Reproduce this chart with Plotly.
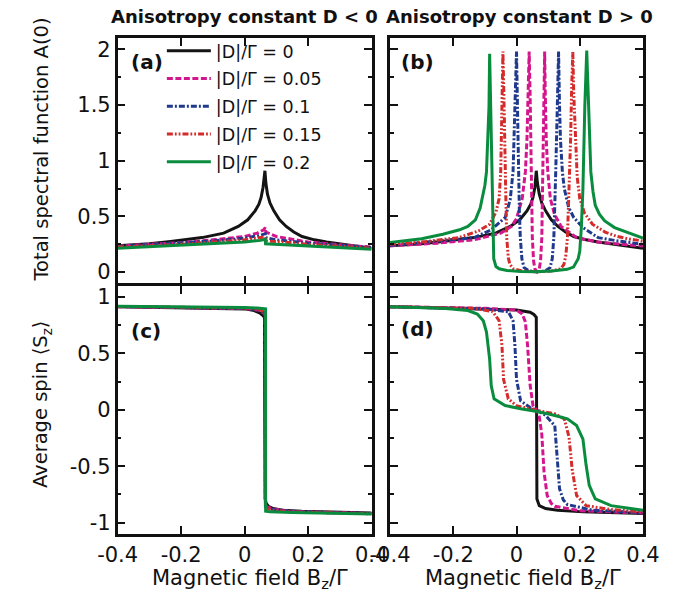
import plotly.graph_objects as go

FONT = "DejaVu Sans, Verdana, sans-serif"
W, H = 682, 601

labels = ["|D|/Γ = 0", "|D|/Γ = 0.05", "|D|/Γ = 0.1", "|D|/Γ = 0.15", "|D|/Γ = 0.2"]
colors = ["#141414", "#d3168c", "#1f3a8c", "#d42b2b", "#0a8c3e"]
dashes = ["solid", "6px,2.5px", "6px,2px,2px,2px", "6px,2px,1.8px,2px,1.8px,2px", "solid"]

# ---------------- panel (a): spectral function, D < 0 ----------------
a_x = [
    [-0.4, -0.3, -0.233, -0.134, -0.066, -0.02, 0.01, 0.033, 0.045, 0.052, 0.058, 0.064, 0.067, 0.072, 0.08, 0.092, 0.11, 0.131, 0.155, 0.181, 0.22, 0.258, 0.32, 0.4],
    [-0.4, -0.2, -0.1, 0.0, 0.04, 0.06, 0.065, 0.067, 0.1, 0.2, 0.3, 0.4],
    [-0.4, -0.2, -0.1, 0.0, 0.05, 0.065, 0.067, 0.1, 0.2, 0.3, 0.4],
    [-0.4, -0.2, -0.1, 0.0, 0.05, 0.065, 0.067, 0.1, 0.2, 0.3, 0.4],
    [-0.4, -0.2, -0.1, 0.0, 0.05, 0.065, 0.066, 0.1, 0.2, 0.3, 0.4],
]
a_y = [
    [0.236, 0.255, 0.275, 0.31, 0.35, 0.41, 0.47, 0.55, 0.61, 0.67, 0.76, 0.91, 0.80, 0.70, 0.62, 0.55, 0.47, 0.41, 0.36, 0.32, 0.29, 0.27, 0.245, 0.215],
    [0.235, 0.265, 0.29, 0.32, 0.35, 0.38, 0.40, 0.36, 0.32, 0.27, 0.245, 0.225],
    [0.23, 0.26, 0.28, 0.305, 0.33, 0.345, 0.31, 0.29, 0.26, 0.24, 0.22],
    [0.225, 0.25, 0.27, 0.29, 0.31, 0.315, 0.28, 0.275, 0.25, 0.23, 0.215],
    [0.215, 0.24, 0.255, 0.27, 0.285, 0.295, 0.255, 0.25, 0.235, 0.22, 0.205],
]

# ---------------- panel (b): spectral function, D > 0 ----------------
b_x = [
    [-0.4, -0.3, -0.233, -0.134, -0.066, -0.02, 0.01, 0.033, 0.045, 0.052, 0.058, 0.0625, 0.066, 0.072, 0.08, 0.092, 0.11, 0.131, 0.155, 0.181, 0.22, 0.258, 0.32, 0.4],
    [-0.4, -0.25, -0.134, -0.05, -0.016, 0.0, 0.018, 0.028, 0.033, 0.037, 0.040, 0.043, 0.045, 0.048, 0.050, 0.054, 0.058, 0.065, 0.072, 0.076, 0.080, 0.082, 0.085, 0.087, 0.089, 0.091, 0.094, 0.099, 0.107, 0.12, 0.141, 0.19, 0.258, 0.33, 0.4],
    [-0.4, -0.25, -0.134, -0.08, -0.036, -0.02, -0.011, -0.005, 0.0, 0.003, 0.006, 0.009, 0.012, 0.017, 0.024, 0.04, 0.065, 0.09, 0.106, 0.113, 0.118, 0.121, 0.124, 0.129, 0.133, 0.136, 0.139, 0.145, 0.151, 0.165, 0.181, 0.21, 0.258, 0.32, 0.4],
    [-0.4, -0.3, -0.183, -0.12, -0.085, -0.065, -0.055, -0.050, -0.048, -0.045, -0.043, -0.040, -0.038, -0.034, -0.031, -0.026, -0.021, -0.01, 0.02, 0.065, 0.11, 0.14, 0.150, 0.156, 0.161, 0.166, 0.171, 0.174, 0.178, 0.181, 0.186, 0.192, 0.20, 0.215, 0.24, 0.28, 0.318, 0.36, 0.4],
    [-0.4, -0.3, -0.233, -0.18, -0.154, -0.13, -0.115, -0.10, -0.095, -0.090, -0.087, -0.085, -0.082, -0.080, -0.077, -0.075, -0.072, -0.065, -0.055, -0.03, 0.013, 0.06, 0.112, 0.16, 0.18, 0.195, 0.20, 0.205, 0.21, 0.216, 0.222, 0.228, 0.232, 0.235, 0.242, 0.249, 0.262, 0.279, 0.31, 0.338, 0.392, 0.4],
]
b_y = [
    [0.236, 0.255, 0.275, 0.31, 0.35, 0.41, 0.47, 0.55, 0.61, 0.67, 0.76, 0.91, 0.80, 0.70, 0.62, 0.55, 0.47, 0.41, 0.36, 0.32, 0.29, 0.27, 0.245, 0.215],
    [0.236, 0.26, 0.29, 0.35, 0.41, 0.48, 0.66, 0.90, 1.19, 1.60, 1.98, 1.60, 1.19, 0.70, 0.31, 0.10, 0.03, 0.003, 0.03, 0.10, 0.31, 0.70, 1.19, 1.60, 1.98, 1.60, 1.19, 0.90, 0.66, 0.52, 0.41, 0.31, 0.27, 0.25, 0.235],
    [0.24, 0.28, 0.31, 0.38, 0.49, 0.65, 0.90, 1.49, 1.98, 1.49, 0.90, 0.55, 0.31, 0.12, 0.04, 0.01, 0.003, 0.01, 0.04, 0.12, 0.31, 0.55, 0.90, 1.49, 1.98, 1.49, 1.19, 0.90, 0.75, 0.58, 0.49, 0.40, 0.31, 0.28, 0.25],
    [0.25, 0.27, 0.31, 0.37, 0.43, 0.54, 0.66, 0.90, 1.19, 1.60, 1.98, 1.60, 1.19, 0.70, 0.31, 0.13, 0.07, 0.03, 0.01, 0.003, 0.01, 0.03, 0.07, 0.15, 0.31, 0.70, 1.19, 1.60, 1.98, 1.60, 1.19, 0.85, 0.66, 0.53, 0.43, 0.36, 0.32, 0.295, 0.28],
    [0.265, 0.30, 0.34, 0.38, 0.41, 0.47, 0.575, 0.78, 0.90, 1.20, 1.49, 1.96, 1.55, 1.19, 0.60, 0.31, 0.12, 0.05, 0.03, 0.015, 0.005, 0.003, 0.01, 0.025, 0.045, 0.12, 0.19, 0.40, 0.75, 1.49, 1.99, 1.49, 1.10, 0.90, 0.72, 0.60, 0.52, 0.46, 0.40, 0.37, 0.31, 0.305],
]

# ---------------- panel (c): average spin, D < 0 ----------------
c_x = [
    [-0.4, -0.2, 0.0, 0.03, 0.047, 0.056, 0.0625, 0.0635, 0.0645, 0.068, 0.075, 0.09, 0.12, 0.18, 0.26, 0.4],
    [-0.4, -0.2, 0.0, 0.04, 0.055, 0.063, 0.0645, 0.0655, 0.07, 0.09, 0.15, 0.26, 0.4],
    [-0.4, -0.2, 0.0, 0.04, 0.057, 0.064, 0.065, 0.0655, 0.07, 0.09, 0.15, 0.26, 0.4],
    [-0.4, -0.2, 0.0, 0.04, 0.058, 0.064, 0.0652, 0.0658, 0.07, 0.09, 0.15, 0.26, 0.4],
    [-0.4, -0.2, 0.0, 0.04, 0.06, 0.066, 0.0662, 0.08, 0.15, 0.26, 0.4],
]
c_y = [
    [0.915, 0.905, 0.895, 0.88, 0.86, 0.84, 0.82, 0.0, -0.79, -0.83, -0.855, -0.875, -0.89, -0.9, -0.905, -0.915],
    [0.915, 0.908, 0.898, 0.885, 0.87, 0.855, 0.84, -0.84, -0.86, -0.88, -0.9, -0.91, -0.92],
    [0.916, 0.909, 0.9, 0.888, 0.875, 0.865, 0.855, -0.855, -0.87, -0.885, -0.9, -0.912, -0.92],
    [0.917, 0.91, 0.902, 0.892, 0.882, 0.872, 0.865, -0.865, -0.875, -0.89, -0.905, -0.913, -0.922],
    [0.918, 0.914, 0.908, 0.902, 0.897, 0.895, -0.9, -0.905, -0.91, -0.915, -0.925],
]

# ---------------- panel (d): average spin, D > 0 ----------------
d_x = [
    [-0.4, -0.134, 0.0, 0.043, 0.055, 0.0625, 0.0635, 0.0645, 0.072, 0.092, 0.13, 0.21, 0.4],
    [-0.4, -0.1, 0.0, 0.018, 0.028, 0.035, 0.043, 0.052, 0.065, 0.072, 0.080, 0.087, 0.097, 0.11, 0.121, 0.2, 0.4],
    [-0.4, -0.1, -0.026, -0.011, -0.005, 0.0, 0.013, 0.043, 0.065, 0.092, 0.121, 0.129, 0.136, 0.148, 0.161, 0.24, 0.4],
    [-0.4, -0.134, -0.075, -0.055, -0.046, -0.041, -0.026, 0.0, 0.065, 0.121, 0.151, 0.166, 0.176, 0.19, 0.22, 0.3, 0.4],
    [-0.4, -0.233, -0.154, -0.124, -0.105, -0.095, -0.085, -0.080, -0.071, -0.036, 0.013, 0.065, 0.112, 0.161, 0.19, 0.21, 0.22, 0.23, 0.249, 0.299, 0.4],
]
d_y = [
    [0.915, 0.895, 0.885, 0.865, 0.845, 0.82, 0.0, -0.79, -0.85, -0.876, -0.89, -0.905, -0.92],
    [0.915, 0.9, 0.885, 0.85, 0.78, 0.57, 0.22, 0.04, -0.005, -0.06, -0.22, -0.55, -0.76, -0.83, -0.855, -0.895, -0.915],
    [0.915, 0.895, 0.87, 0.79, 0.57, 0.27, 0.08, 0.02, -0.005, -0.05, -0.14, -0.43, -0.70, -0.80, -0.84, -0.89, -0.912],
    [0.915, 0.9, 0.87, 0.79, 0.57, 0.27, 0.097, 0.036, -0.005, -0.035, -0.08, -0.24, -0.53, -0.76, -0.85, -0.885, -0.905],
    [0.915, 0.9, 0.88, 0.85, 0.79, 0.69, 0.45, 0.215, 0.097, 0.038, 0.009, -0.015, -0.044, -0.08, -0.14, -0.26, -0.49, -0.67, -0.79, -0.85, -0.89],
]

panels = [(a_x, a_y, "x", "y"), (b_x, b_y, "x2", "y2"), (c_x, c_y, "x3", "y3"), (d_x, d_y, "x4", "y4")]

fig = go.Figure()
for p, (xs, ys, xa, ya) in enumerate(panels):
    for i in range(5):
        fig.add_trace(go.Scatter(
            x=xs[i], y=ys[i], mode="lines", xaxis=xa, yaxis=ya,
            name=labels[i], showlegend=(p == 0), legendgroup="g%d" % i,
            line=dict(color=colors[i], width=3, dash=dashes[i]),
        ))

# geometry (pixels -> paper)
def px(v):
    return v / W

def py(v):
    return 1 - v / H

LW = 2.5
XA = [px(102 + LW / 2), px(373 - LW / 2)]
XB = [px(390 + LW / 2), px(660 - LW / 2)]
YT = [py(285 - LW / 2), py(37 + LW / 2)]
YB = [py(536 - LW / 2), py(285 + LW / 2)]

xticks = [-0.4, -0.2, 0, 0.2, 0.4]
xtext = ["-0.4", "-0.2", "0", "0.2", "0.4"]
TICKFONT = dict(family=FONT, size=21, color="#111")

def xaxis(domain, anchor, labels_on):
    return dict(domain=domain, anchor=anchor, range=[-0.4, 0.4], tickvals=xticks, ticktext=xtext,
                showticklabels=labels_on, ticks="inside", ticklen=8, tickwidth=2, tickcolor="#111",
                showline=True, linewidth=LW, linecolor="#111", mirror="ticks", showgrid=False,
                zeroline=False, tickfont=TICKFONT)

def yaxis(domain, anchor, rng, vals, text, labels_on):
    return dict(domain=domain, anchor=anchor, range=rng, tickvals=vals, ticktext=text,
                showticklabels=labels_on, ticks="inside", ticklen=8, tickwidth=2, tickcolor="#111",
                minor=dict(tickvals=[v + 0.25 for v in vals[:-1]], ticks="inside", ticklen=4, tickwidth=2, tickcolor="#111"),
                showline=True, linewidth=LW, linecolor="#111", mirror="ticks", showgrid=False,
                zeroline=False, tickfont=TICKFONT)

ytop_vals = [0, 0.5, 1, 1.5, 2]
ytop_text = ["0", "0.5", "1", "1.5", "2"]
ybot_vals = [-1, -0.5, 0, 0.5, 1]
ybot_text = ["-1", "-0.5", "0", "0.5", "1"]

fig.update_layout(
    width=W, height=H, margin=dict(l=0, r=0, t=0, b=0),
    paper_bgcolor="white", plot_bgcolor="white",
    font=dict(family=FONT, color="#111"),
    xaxis=xaxis(XA, "y", False),
    xaxis2=xaxis(XB, "y2", False),
    xaxis3=xaxis(XA, "y3", True),
    xaxis4=xaxis(XB, "y4", True),
    yaxis=yaxis(YT, "x", [-0.1, 2.1], ytop_vals, ytop_text, True),
    yaxis2=yaxis(YT, "x2", [-0.1, 2.1], ytop_vals, ytop_text, False),
    yaxis3=yaxis(YB, "x3", [-1.1, 1.1], ybot_vals, ybot_text, True),
    yaxis4=yaxis(YB, "x4", [-1.1, 1.1], ybot_vals, ybot_text, False),
    legend=dict(x=px(150), y=py(33), xanchor="left", yanchor="top", bgcolor="rgba(0,0,0,0)",
                font=dict(family=FONT, size=17.5, color="#111"), tracegroupgap=2, itemwidth=44),
    showlegend=True,
)

ann = []
def note(text, x, y, size, xanchor="center", angle=0):
    ann.append(dict(text=text, x=px(x), y=py(y), xref="paper", yref="paper", xanchor=xanchor,
                    yanchor="middle", textangle=angle, showarrow=False,
                    font=dict(family=FONT, size=size, color="#111")))

note("<b>Anisotropy constant D < 0</b>", 237, 17, 18)
note("<b>Anisotropy constant D > 0</b>", 528, 17, 18)
for t, x0, y0 in [("(a)", 115, 62), ("(b)", 401, 62), ("(c)", 115, 332), ("(d)", 401, 330)]:
    note("<b>%s</b>" % t, x0, y0, 20, xanchor="left")
for xc in (243, 532):
    note("Magnetic field B<sub>z</sub>/Γ", xc, 580, 21)
note("Total spectral function A(0)", 23, 150, 19.5, angle=-90)
note("Average spin ⟨S<sub>z</sub>⟩", 23, 405, 19.5, angle=-90)
fig.update_layout(annotations=ann)

fig.write_html("out.html")
